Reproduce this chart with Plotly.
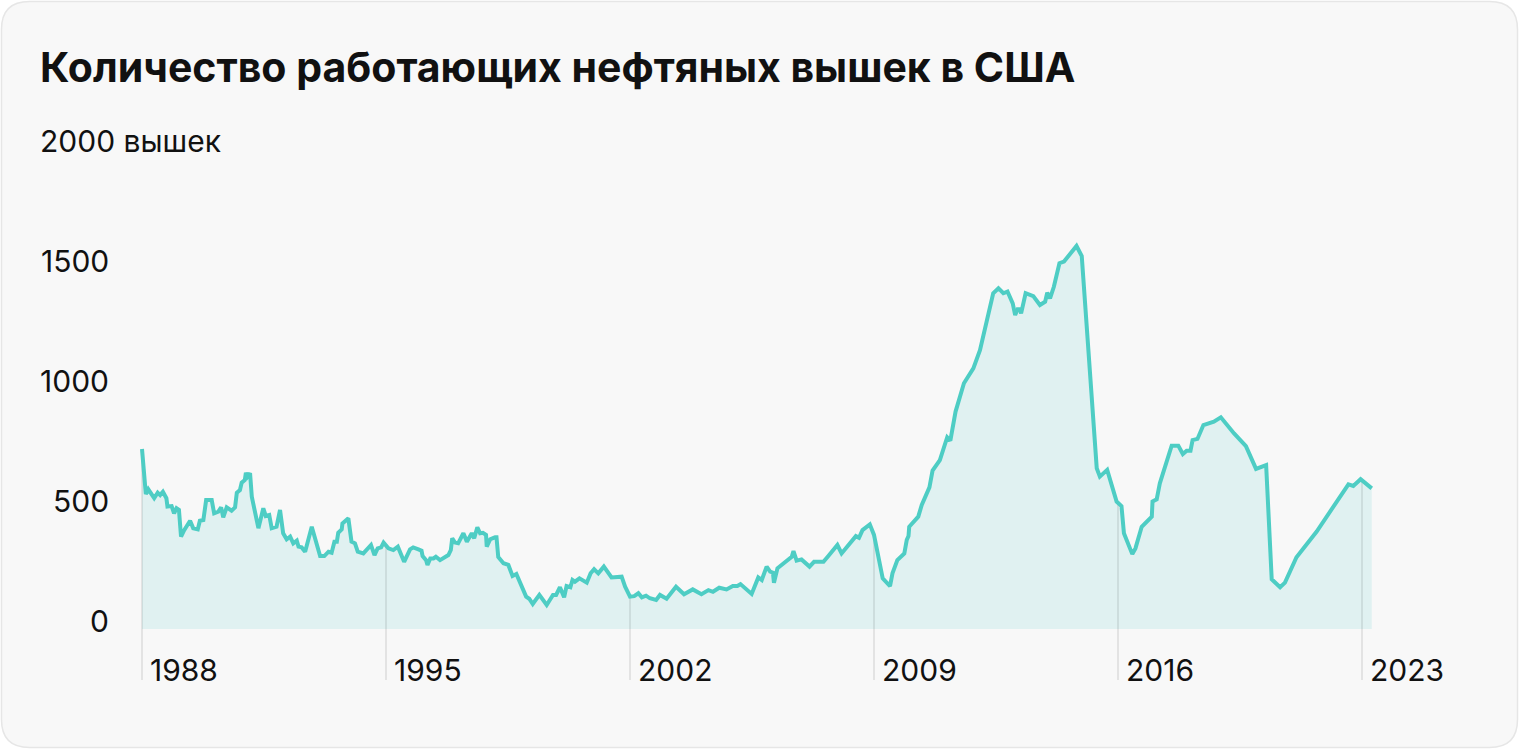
import numpy as np
import plotly.graph_objects as go

# ---------------- data ----------------
years = [
    1988.00, 1988.11, 1988.18, 1988.35, 1988.45, 1988.52, 1988.60, 1988.70, 1988.73, 1988.85,
    1988.92, 1988.99, 1989.06, 1989.12, 1989.21, 1989.38, 1989.47, 1989.60, 1989.66, 1989.76,
    1989.84, 1990.00, 1990.07, 1990.19, 1990.27, 1990.33, 1990.43, 1990.57, 1990.67, 1990.72,
    1990.81, 1990.86, 1990.95, 1990.98, 1991.03, 1991.10, 1991.15, 1991.34, 1991.48, 1991.55,
    1991.65, 1991.72, 1991.86, 1991.96, 1992.05, 1992.15, 1992.25, 1992.34, 1992.44, 1992.49,
    1992.58, 1992.68, 1992.87, 1993.11, 1993.23, 1993.35, 1993.44, 1993.52, 1993.59, 1993.63,
    1993.73, 1993.75, 1993.92, 1994.01, 1994.11, 1994.19, 1994.35, 1994.45, 1994.57, 1994.67,
    1994.76, 1994.86, 1994.93, 1995.07, 1995.21, 1995.34, 1995.52, 1995.69, 1995.78, 1995.93,
    1996.02, 1996.05, 1996.15, 1996.19, 1996.27, 1996.36, 1996.43, 1996.55, 1996.64, 1996.79,
    1996.86, 1996.90, 1996.98, 1997.07, 1997.22, 1997.32, 1997.46, 1997.53, 1997.62, 1997.70,
    1997.78, 1997.87, 1997.89, 1997.99, 1998.13, 1998.17, 1998.22, 1998.29, 1998.37, 1998.51,
    1998.63, 1998.74, 1999.02, 1999.11, 1999.21, 1999.40, 1999.61, 1999.79, 1999.88, 1999.99,
    2000.11, 2000.18, 2000.29, 2000.35, 2000.42, 2000.55, 2000.76, 2000.87, 2000.97, 2001.09,
    2001.25, 2001.47, 2001.60, 2001.76, 2001.86, 2002.00, 2002.12, 2002.24, 2002.34, 2002.46,
    2002.57, 2002.75, 2002.86, 2003.05, 2003.32, 2003.55, 2003.80, 2004.05, 2004.25, 2004.38,
    2004.56, 2004.77, 2004.95, 2005.08, 2005.17, 2005.49, 2005.68, 2005.78, 2005.92, 2006.02,
    2006.10, 2006.13, 2006.23, 2006.35, 2006.54, 2006.64, 2006.69, 2006.78, 2006.92, 2007.15,
    2007.28, 2007.55, 2007.69, 2007.95, 2008.07, 2008.33, 2008.48, 2008.57, 2008.67, 2008.88,
    2009.00, 2009.25, 2009.46, 2009.53, 2009.67, 2009.87, 2009.94, 2009.99, 2010.01, 2010.27,
    2010.37, 2010.59, 2010.68, 2010.89, 2011.10, 2011.19, 2011.34, 2011.58, 2011.85, 2012.04,
    2012.18, 2012.42, 2012.57, 2012.71, 2012.83, 2012.98, 2013.05, 2013.12, 2013.19, 2013.22,
    2013.35, 2013.57, 2013.76, 2013.91, 2013.97, 2014.05, 2014.16, 2014.32, 2014.45, 2014.81,
    2014.96, 2015.39, 2015.48, 2015.69, 2015.96, 2016.10, 2016.17, 2016.41, 2016.50, 2016.68,
    2016.97, 2016.99, 2017.11, 2017.20, 2017.54, 2017.73, 2017.86, 2017.97, 2018.08, 2018.14,
    2018.28, 2018.45, 2018.75, 2018.95, 2019.33, 2019.67, 2019.96, 2020.25, 2020.41, 2020.65,
    2020.79, 2021.12, 2021.70, 2022.16, 2022.61, 2022.75, 2022.96, 2023.28,
]
rigs = [
    750, 562, 582, 545, 568, 558, 572, 545, 510, 512,
    482, 503, 496, 385, 412, 451, 420, 415, 451, 454,
    537, 537, 482, 489, 507, 465, 507, 493, 507, 568,
    579, 610, 621, 651, 635, 649, 551, 420, 503, 471,
    475, 420, 426, 496, 399, 374, 385, 357, 368, 343,
    340, 322, 426, 304, 304, 322, 318, 364, 364, 401,
    415, 440, 461, 364, 357, 322, 315, 329, 350, 308,
    336, 340, 360, 336, 329, 343, 280, 332, 340, 332,
    326, 304, 287, 267, 294, 294, 301, 287, 294, 308,
    329, 378, 360, 357, 399, 364, 399, 378, 424, 399,
    401, 392, 343, 374, 382, 382, 300, 290, 274, 267,
    221, 229, 135, 126, 104, 142, 100, 142, 142, 174,
    132, 179, 174, 204, 197, 211, 193, 232, 249, 232,
    260, 215, 218, 218, 176, 135, 137, 149, 132, 139,
    128, 121, 142, 126, 176, 145, 165, 145, 162, 155,
    172, 165, 179, 179, 187, 146, 215, 204, 260, 239,
    235, 193, 253, 267, 294, 301, 325, 285, 290, 260,
    280, 280, 304, 350, 315, 357, 387, 380, 412, 436,
    392, 211, 179, 232, 287, 315, 371, 387, 426, 468,
    517, 590, 660, 704, 799, 785, 906, 1024, 1086, 1162,
    1246, 1399, 1420, 1399, 1406, 1357, 1308, 1332, 1332, 1315,
    1399, 1387, 1350, 1364, 1401, 1378, 1426, 1524, 1531, 1596,
    1554, 670, 635, 663, 531, 512, 399, 312, 336, 426,
    468, 531, 540, 607, 764, 764, 729, 743, 743, 787,
    792, 850, 864, 882, 815, 762, 667, 683, 207, 174,
    193, 299, 406, 507, 603, 596, 624, 586,
]
x_ticks = [1988, 1995, 2002, 2009, 2016, 2023]
y_ticks = [0, 500, 1000, 1500]
y_top_label = "2000 вышек"
title_text = "Количество работающих нефтяных вышек в США"

# ---------------- layout geometry ----------------
W, H = 1520, 750
ML, MR, MT, MB = 120, 40, 149, 60
PW, PH = W - ML - MR, H - MT - MB
px_per_year = 244 / 7.0
px_per_unit = 0.24
x0 = 1988 - (142 - ML) / px_per_year
x1 = x0 + PW / px_per_year
y1 = 2000
y0 = y1 - PH / px_per_unit
grid_bottom = -212.0   # value where the tick lines end (below the axis)
label_y = -171.0       # value at which the year labels sit

LINE = "#4ecdc4"
FILL = "#e0f1f1"
GRID = "rgba(0,0,0,0.11)"
FONT = "Inter"
LABEL_SIZE = 30


def pxx(p):
    return (p - ML) / PW


def pxy(p):
    return (H - MB - p) / PH


fig = go.Figure()

# area fill
fig.add_trace(go.Scatter(x=years, y=rigs, mode="lines", fill="tozeroy",
                         fillcolor=FILL, line=dict(width=0, color=FILL),
                         hoverinfo="skip", showlegend=False))

# tick lines from the curve down below the axis
gx, gy = [], []
for t in x_ticks:
    v = float(np.interp(t, years, rigs))
    gx += [t, t, None]
    gy += [v, grid_bottom, None]
fig.add_trace(go.Scatter(x=gx, y=gy, mode="lines", line=dict(color=GRID, width=1.5),
                         hoverinfo="skip", showlegend=False))

# main line
fig.add_trace(go.Scatter(x=years, y=rigs, mode="lines",
                         line=dict(color=LINE, width=4, shape="linear"),
                         showlegend=False))

annotations = []
# y labels
for v in y_ticks:
    annotations.append(dict(x=pxx(111), xref="paper", y=v, yref="y", text=str(v),
                            xanchor="right", yanchor="middle", yshift=8, showarrow=False,
                            font=dict(family=FONT, size=LABEL_SIZE, color="#111111")))
annotations.append(dict(x=pxx(38), xref="paper", y=2000, yref="y", text=y_top_label,
                        xanchor="left", yanchor="middle", yshift=8, showarrow=False,
                        font=dict(family=FONT, size=LABEL_SIZE, color="#111111")))
# x labels
for t in x_ticks:
    annotations.append(dict(x=t, xref="x", y=label_y, yref="y", text=str(t),
                            xanchor="left", yanchor="middle", xshift=6, showarrow=False,
                            font=dict(family=FONT, size=LABEL_SIZE, color="#111111")))
# title
annotations.append(dict(x=pxx(38), xref="paper", y=pxy(67), yref="paper", text="<b>" + title_text + "</b>",
                        xanchor="left", yanchor="middle", showarrow=False,
                        font=dict(family=FONT, size=41, color="#111111")))

# rounded card background
r = 28
L_, R_, T_, B_ = 1.5, 1517.5, 1.5, 747.5
path = (f"M {pxx(L_ + r)} {pxy(T_)} L {pxx(R_ - r)} {pxy(T_)} "
        f"Q {pxx(R_)} {pxy(T_)} {pxx(R_)} {pxy(T_ + r)} L {pxx(R_)} {pxy(B_ - r)} "
        f"Q {pxx(R_)} {pxy(B_)} {pxx(R_ - r)} {pxy(B_)} L {pxx(L_ + r)} {pxy(B_)} "
        f"Q {pxx(L_)} {pxy(B_)} {pxx(L_)} {pxy(B_ - r)} L {pxx(L_)} {pxy(T_ + r)} "
        f"Q {pxx(L_)} {pxy(T_)} {pxx(L_ + r)} {pxy(T_)} Z")
shapes = [dict(type="path", xref="paper", yref="paper", path=path,
               fillcolor="#f8f8f8", line=dict(color="#e6e6e6", width=1.5), layer="below")]

fig.update_layout(
    width=W, height=H,
    margin=dict(l=ML, r=MR, t=MT, b=MB, pad=0),
    paper_bgcolor="#ffffff", plot_bgcolor="rgba(0,0,0,0)",
    xaxis=dict(range=[x0, x1], visible=False, fixedrange=True),
    yaxis=dict(range=[y0, y1], visible=False, fixedrange=True),
    annotations=annotations, shapes=shapes,
    font=dict(family=FONT),
    showlegend=False,
)

fig.write_html("out.html")
